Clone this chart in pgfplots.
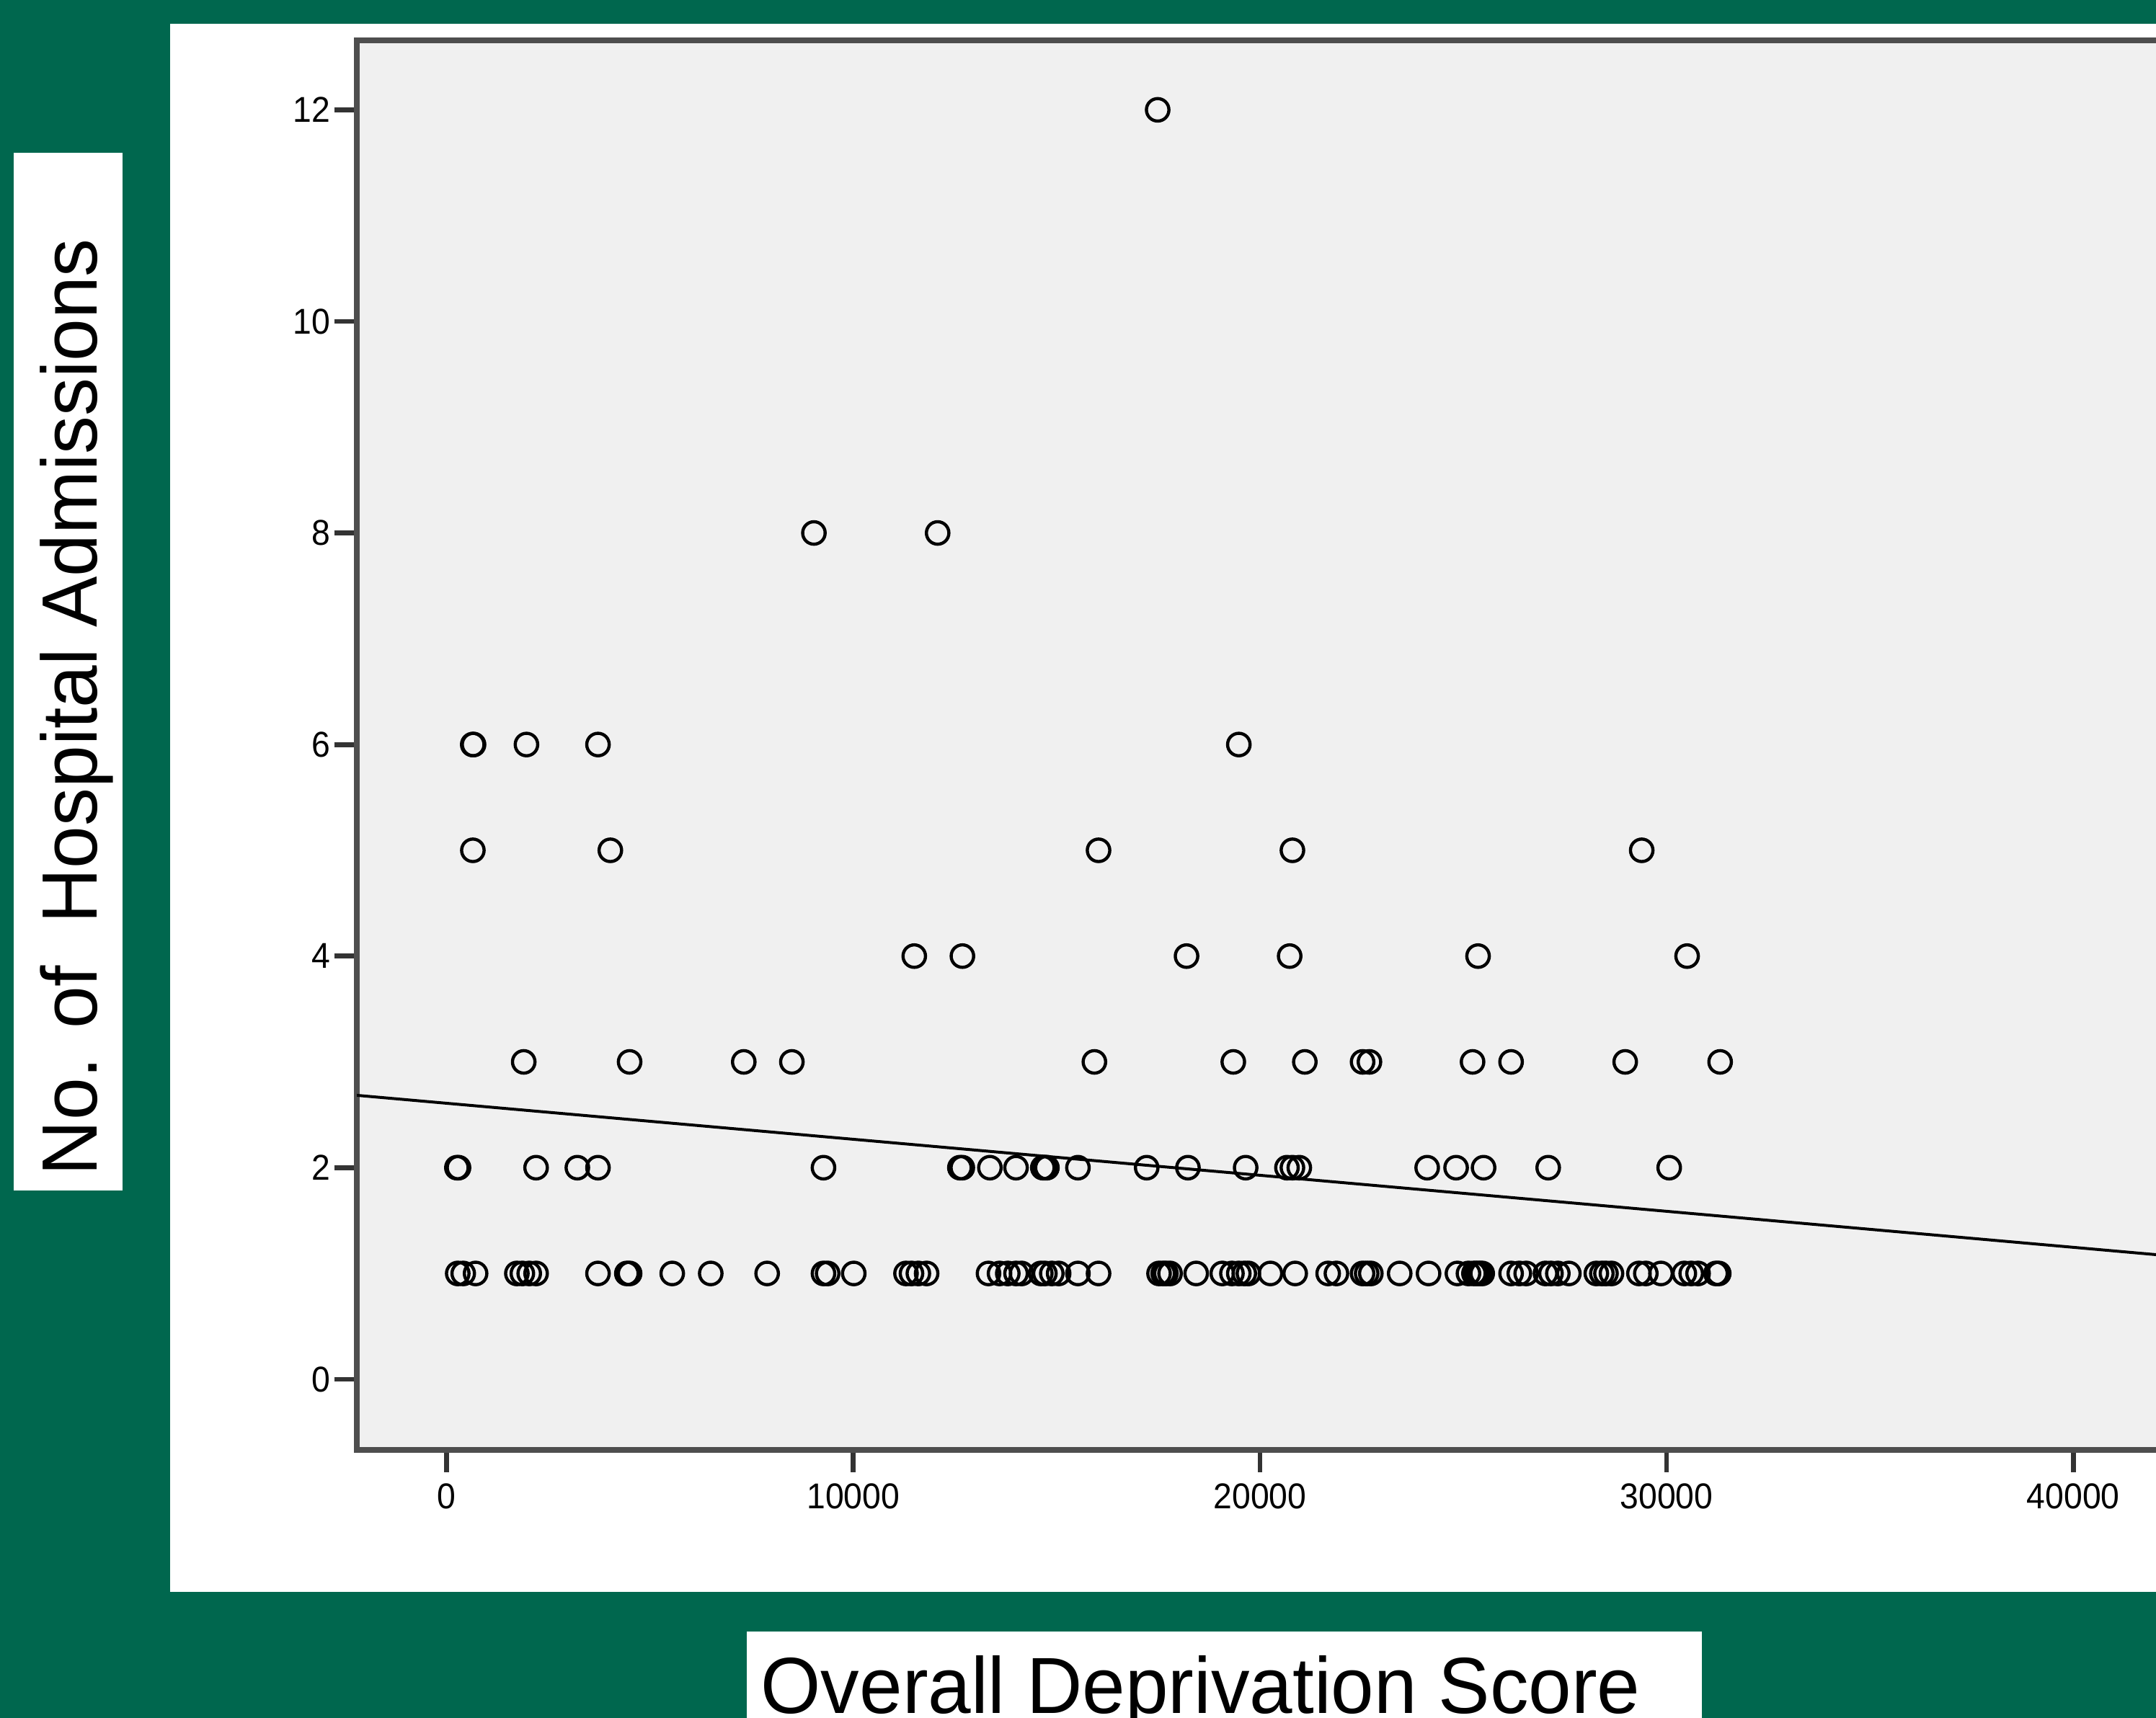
\documentclass[border=0pt]{standalone}
\usepackage{fontspec}
\setmainfont{Liberation Sans}
\newfontfamily\labfont[FakeStretch=0.97]{Liberation Sans}
\newfontfamily\tickfont[FakeStretch=0.93]{Liberation Sans}
\usepackage{pgfplots}
\usepackage{pgfplotstable}
\pgfplotsset{compat=1.18}
\definecolor{bggreen}{RGB}{0,103,78}
\definecolor{plotgray}{RGB}{240,240,240}
\definecolor{framegray}{RGB}{78,78,78}

\pgfplotstableread{
x y
17484 12
9030 8
12073 8
640 6
660 6
1961 6
3720 6
19480 6
643 5
4024 5
16030 5
20798 5
29388 5
11498 4
12682 4
18194 4
20730 4
25363 4
30504 4
1894 3
4498 3
7305 3
8488 3
15928 3
19344 3
21103 3
22523 3
22692 3
25228 3
26175 3
28982 3
31316 3
250 2
290 2
2198 2
3213 2
3720 2
9266 2
12620 2
12680 2
13358 2
14001 2
14660 2
14710 2
14760 2
15523 2
17214 2
18228 2
19648 2
20663 2
20798 2
20967 2
24112 2
24823 2
25499 2
27088 2
30064 2
271 1
406 1
710 1
1725 1
1860 1
2029 1
2198 1
3720 1
4430 1
4498 1
5546 1
6493 1
7880 1
9266 1
9368 1
10010 1
11295 1
11430 1
11599 1
11802 1
13324 1
13595 1
13798 1
14001 1
14136 1
14610 1
14711 1
14880 1
15049 1
15523 1
16030 1
17518 1
17619 1
17687 1
17788 1
18431 1
19073 1
19310 1
19479 1
19614 1
19716 1
20257 1
20866 1
21677 1
21880 1
22523 1
22624 1
22726 1
23436 1
24146 1
24856 1
25127 1
25262 1
25330 1
25398 1
25465 1
26175 1
26378 1
26547 1
27021 1
27156 1
27325 1
27596 1
28272 1
28407 1
28509 1
28644 1
29320 1
29489 1
29861 1
30436 1
30605 1
30774 1
31214 1
31282 1
}\pointsdata

\begin{document}
\begin{tikzpicture}
\useasboundingbox (0,0) rectangle (747.75pt,596pt);
\clip (0,0) rectangle (747.75pt,596pt);
\fill[bggreen] (0,0) rectangle (747.75pt,596pt);
\fill[white] (59pt,43.75pt) rectangle (760pt,587.7pt);
\fill[white] (4.8pt,183.1pt) rectangle (42.6pt,542.9pt);
\fill[white] (259pt,-5pt) rectangle (590.25pt,30pt);
\node[rotate=90,anchor=base west,inner sep=0pt] at (33.75pt,188pt) {\labfont\fontsize{27.2}{30}\selectfont No. of\ \ Hospital Admissions};
\node[anchor=base west,inner sep=0pt] at (263.7pt,1.5pt) {\labfont\fontsize{27.6}{30}\selectfont Overall Deprivation Score};
\begin{axis}[
  at={(123.75pt,93pt)}, anchor=south west,
  scale only axis, width=637.6pt, height=489pt,
  xmin=-2211, xmax=43000, ymin=-0.668, ymax=12.657,
  axis background/.style={fill=plotgray},
  axis line style={framegray, line width=2pt},
  tick align=outside, major tick length=7.75pt,
  tick style={line width=1.7pt, color=black!80},
  tick pos=left,
  xtick={0,10000,20000,30000,40000},
  ytick={0,2,4,6,8,10,12},
  minor tick num=0,
  scaled x ticks=false,
  /pgf/number format/assume math mode=true,
  /pgf/number format/1000 sep={},
  tick label style={font=\tickfont\fontsize{12.45}{14}\selectfont, inner sep=0pt},
  yticklabel style={anchor=east, xshift=-1.25pt},
  xticklabel style={anchor=north, yshift=-3.75pt},
]
\addplot[only marks, mark=o, mark size=3.9pt, mark options={line width=1.1pt, draw=black}] table[x=x,y=y] {\pointsdata};
\addplot[black, line width=1pt, no marks] coordinates {(-2211,2.684) (43000,1.145)};
\end{axis}
\end{tikzpicture}
\end{document}
